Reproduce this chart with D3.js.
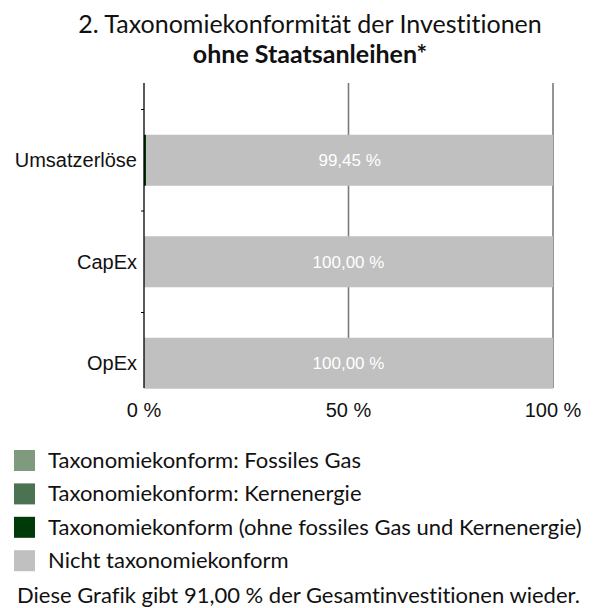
<!DOCTYPE html>
<html>
<head>
<meta charset="utf-8">
<script src="https://cdn.jsdelivr.net/npm/d3@7"></script>
<style>
  html, body { margin: 0; padding: 0; background: #ffffff; }
  svg { display: block; }
  text { font-variant-ligatures: none; font-feature-settings: "liga" 0, "clig" 0; }
</style>
</head>
<body>
<div id="chart"></div>
<script>
// ---- data ----
const categories = ["Umsatzerlöse", "CapEx", "OpEx"];
const fossilesGas = [0, 0, 0];
const kernenergie = [0, 0, 0];
const taxonomiekonform = [0.55, 0, 0];
const nichtKonform = [99.45, 100, 100];
const barLabels = ["99,45 %", "100,00 %", "100,00 %"];
const xTicks = [0, 50, 100];
const xTickLabels = ["0 %", "50 %", "100 %"];
const seriesNames = [
  "Taxonomiekonform: Fossiles Gas",
  "Taxonomiekonform: Kernenergie",
  "Taxonomiekonform (ohne fossiles Gas und Kernenergie)",
  "Nicht taxonomiekonform"
];
const seriesColors = ["#7f9a7c", "#4b7351", "#003a08", "#c0c0c0"];
const titleLine1 = "2. Taxonomiekonformität der Investitionen";
const titleLine2 = "ohne Staatsanleihen*";
const footnote = "Diese Grafik gibt 91,00 % der Gesamtinvestitionen wieder.";

// ---- layout ----
const W = 605, H = 608;
const plotLeft = 144, plotRight = 553;
const gridTop = 83, gridBottom = 388;
const textFont = "Lato, 'Open Sans', sans-serif";
const axisFont = "'Liberation Sans', Arial, sans-serif";

const svg = d3.select("#chart").append("svg").attr("width", W).attr("height", H);

// title
svg.append("text").attr("x", 310).attr("y", 33).attr("text-anchor", "middle")
  .attr("font-family", textFont).attr("font-size", 25).attr("fill", "#111")
  .text(titleLine1);
svg.append("text").attr("x", 310).attr("y", 63).attr("text-anchor", "middle")
  .attr("font-family", textFont).attr("font-size", 25).attr("font-weight", 700).attr("fill", "#111")
  .text(titleLine2);

const x = d3.scaleLinear().domain([0, 100]).range([plotLeft, plotRight]);
const y = d3.scaleBand().domain(categories).range([109.5, 414]).paddingInner(0).paddingOuter(0);
const barH = 51;

// stacked data
const keys = ["fossil", "kern", "konform", "nicht"];
const rows = categories.map((c, i) => ({
  cat: c, fossil: fossilesGas[i], kern: kernenergie[i], konform: taxonomiekonform[i], nicht: nichtKonform[i], label: barLabels[i]
}));
const stack = d3.stack().keys(keys)(rows);

// gridlines
svg.append("g").selectAll("line").data(xTicks.filter(t => t > 0)).join("line")
  .attr("x1", d => x(d)).attr("x2", d => x(d))
  .attr("y1", gridTop).attr("y2", gridBottom)
  .attr("stroke", "#7a7a7a").attr("stroke-width", 1.6);

// bars
const layers = svg.append("g").selectAll("g").data(stack).join("g")
  .attr("fill", (d, i) => seriesColors[i]);
layers.selectAll("rect").data(d => d).join("rect")
  .attr("x", d => x(d[0]))
  .attr("width", d => Math.max(0, x(d[1]) - x(d[0])))
  .attr("y", d => y(d.data.cat) + (y.step() - barH) / 2)
  .attr("height", barH);

// bar value labels on the "nicht konform" segment
const nichtLayer = stack[3];
svg.append("g").selectAll("text").data(nichtLayer).join("text")
  .attr("x", d => (x(d[0]) + x(d[1])) / 2)
  .attr("y", d => y(d.data.cat) + y.step() / 2)
  .attr("dy", "0.35em")
  .attr("text-anchor", "middle")
  .attr("font-family", axisFont).attr("font-size", 17).attr("fill", "#ffffff")
  .text(d => d.data.label);

// y axis line (0 %)
svg.append("line").attr("x1", x(0)).attr("x2", x(0)).attr("y1", gridTop).attr("y2", gridBottom)
  .attr("stroke", "#000").attr("stroke-width", 1.3);
// category ticks
svg.append("g").selectAll("line").data(categories).join("line")
  .attr("x1", x(0) - 3).attr("x2", x(0))
  .attr("y1", d => y(d)).attr("y2", d => y(d))
  .attr("stroke", "#000").attr("stroke-width", 1);
// category labels
svg.append("g").selectAll("text").data(categories).join("text")
  .attr("x", x(0) - 7)
  .attr("y", d => y(d) + y.step() / 2)
  .attr("dy", "0.35em")
  .attr("text-anchor", "end")
  .attr("font-family", axisFont).attr("font-size", 20).attr("fill", "#111")
  .text(d => d);

// x tick labels
svg.append("g").selectAll("text").data(xTicks).join("text")
  .attr("x", d => x(d))
  .attr("y", 417)
  .attr("text-anchor", "middle")
  .attr("font-family", axisFont).attr("font-size", 20).attr("fill", "#111")
  .text((d, i) => xTickLabels[i]);

// legend
const lg = svg.append("g").selectAll("g").data(seriesNames).join("g")
  .attr("transform", (d, i) => `translate(14, ${450 + i * 33.4})`);
lg.append("rect").attr("width", 21).attr("height", 21).attr("fill", (d, i) => seriesColors[i]);
lg.append("text").attr("x", 34).attr("y", 18)
  .attr("font-family", textFont).attr("font-size", 22).attr("fill", "#111")
  .text(d => d);

// footnote
svg.append("text").attr("x", 17).attr("y", 603)
  .attr("font-family", textFont).attr("font-size", 22).attr("fill", "#111")
  .text(footnote);
</script>
</body>
</html>
